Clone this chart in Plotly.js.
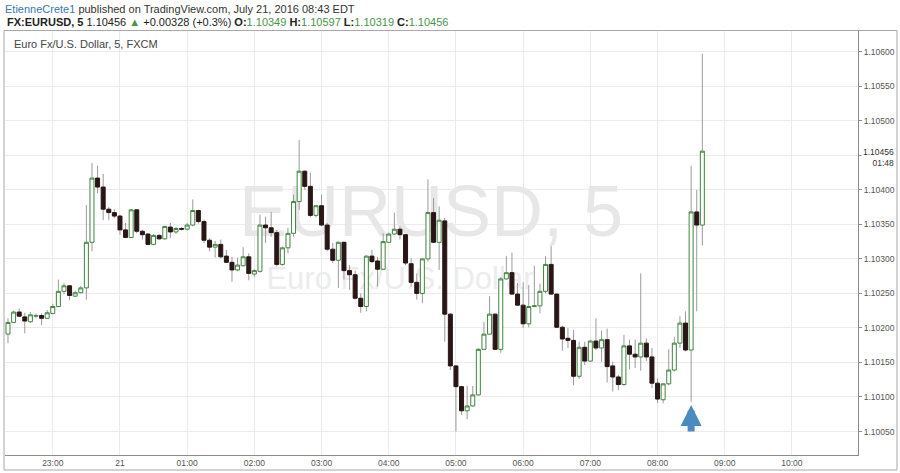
<!DOCTYPE html>
<html><head><meta charset="utf-8">
<script src="https://cdn.plot.ly/plotly-3.0.1.min.js"></script>
<style>html,body{margin:0;padding:0;background:#fff;} #chart{width:900px;height:473px;}</style>
</head><body><div id="chart"></div>
<script>
// ---- data: EUR/USD 5-minute bars starting 2016-07-20 22:20 ----
const firstBar = {day: 20, hour: 22, minute: 20};
const barMinutes = 5;
const open = [1.10191,1.10208,1.10223,1.10216,1.10209,1.10217,1.10218,1.10214,1.10221,1.10231,
1.10253,1.10261,1.10246,1.10251,1.10258,1.10324,1.10417,1.10404,1.10372,1.10367,
1.10362,1.10342,1.10331,1.10371,1.10340,1.10336,1.10321,1.10334,1.10329,1.10346,
1.10339,1.10344,1.10343,1.10349,1.10370,1.10354,1.10327,1.10317,1.10321,1.10304,
1.10295,1.10284,1.10290,1.10303,1.10278,1.10282,1.10349,1.10345,1.10338,1.10292,
1.10316,1.10337,1.10383,1.10427,1.10405,1.10363,1.10377,1.10349,1.10314,1.10298,
1.10324,1.10283,1.10277,1.10243,1.10231,1.10304,1.10297,1.10285,1.10324,1.10336,
1.10343,1.10335,1.10293,1.10266,1.10250,1.10300,1.10367,1.10324,1.10355,1.10220,
1.10145,1.10115,1.10080,1.10087,1.10103,1.10169,1.10191,1.10220,1.10169,1.10271,
1.10280,1.10249,1.10233,1.10206,1.10231,1.10232,1.10253,1.10292,1.10249,1.10201,
1.10185,1.10182,1.10130,1.10172,1.10152,1.10181,1.10171,1.10183,1.10145,1.10129,
1.10118,1.10174,1.10162,1.10158,1.10178,1.10158,1.10120,1.10096,1.10119,1.10139,
1.10178,1.10207,1.10168,1.10368,1.10349];
const high = [1.10214,1.10225,1.10228,1.10222,1.10223,1.10221,1.10221,1.10226,1.10235,1.10270,
1.10265,1.10262,1.10254,1.10261,1.10378,1.10439,1.10435,1.10423,1.10375,1.10372,
1.10364,1.10352,1.10372,1.10372,1.10342,1.10337,1.10336,1.10336,1.10348,1.10352,
1.10346,1.10346,1.10352,1.10386,1.10371,1.10357,1.10330,1.10326,1.10328,1.10313,
1.10303,1.10302,1.10317,1.10308,1.10285,1.10364,1.10361,1.10368,1.10342,1.10318,
1.10345,1.10393,1.10472,1.10428,1.10425,1.10378,1.10393,1.10352,1.10323,1.10325,
1.10325,1.10291,1.10283,1.10250,1.10305,1.10313,1.10303,1.10337,1.10338,1.10367,
1.10347,1.10336,1.10301,1.10279,1.10301,1.10415,1.10388,1.10376,1.10359,1.10221,
1.10146,1.10116,1.10116,1.10116,1.10171,1.10209,1.10246,1.10221,1.10274,1.10304,
1.10309,1.10265,1.10266,1.10262,1.10290,1.10264,1.10304,1.10319,1.10250,1.10203,
1.10200,1.10197,1.10180,1.10180,1.10183,1.10214,1.10196,1.10199,1.10151,1.10132,
1.10190,1.10183,1.10183,1.10279,1.10185,1.10171,1.10127,1.10120,1.10169,1.10187,
1.10217,1.10224,1.10435,1.10400,1.10597];
const low = [1.10178,1.10207,1.10216,1.10192,1.10207,1.10214,1.10204,1.10213,1.10220,1.10230,
1.10249,1.10240,1.10245,1.10250,1.10241,1.10311,1.10395,1.10356,1.10356,1.10359,
1.10335,1.10330,1.10330,1.10337,1.10328,1.10320,1.10320,1.10328,1.10328,1.10330,
1.10336,1.10341,1.10341,1.10347,1.10351,1.10323,1.10311,1.10302,1.10301,1.10294,
1.10267,1.10282,1.10289,1.10269,1.10274,1.10280,1.10323,1.10332,1.10289,1.10290,
1.10308,1.10332,1.10371,1.10400,1.10360,1.10360,1.10347,1.10311,1.10294,1.10258,
1.10270,1.10255,1.10241,1.10222,1.10224,1.10294,1.10260,1.10284,1.10323,1.10335,
1.10328,1.10291,1.10260,1.10241,1.10236,1.10296,1.10323,1.10284,1.10180,1.10139,
1.10050,1.10074,1.10068,1.10086,1.10102,1.10168,1.10190,1.10168,1.10164,1.10270,
1.10248,1.10232,1.10200,1.10201,1.10230,1.10221,1.10250,1.10248,1.10200,1.10167,
1.10171,1.10117,1.10126,1.10146,1.10151,1.10168,1.10151,1.10121,1.10108,1.10110,
1.10116,1.10140,1.10142,1.10138,1.10152,1.10113,1.10091,1.10091,1.10117,1.10137,
1.10171,1.10166,1.10093,1.10224,1.10319];
const close = [1.10208,1.10223,1.10217,1.10210,1.10219,1.10218,1.10214,1.10222,1.10231,1.10253,
1.10261,1.10247,1.10251,1.10258,1.10324,1.10417,1.10404,1.10372,1.10367,1.10362,
1.10342,1.10331,1.10371,1.10340,1.10335,1.10321,1.10334,1.10329,1.10347,1.10339,
1.10344,1.10343,1.10349,1.10370,1.10354,1.10327,1.10317,1.10321,1.10303,1.10295,
1.10284,1.10291,1.10303,1.10279,1.10283,1.10349,1.10345,1.10338,1.10292,1.10316,
1.10337,1.10383,1.10427,1.10405,1.10363,1.10377,1.10349,1.10314,1.10298,1.10324,
1.10283,1.10277,1.10243,1.10231,1.10304,1.10296,1.10285,1.10325,1.10336,1.10343,
1.10335,1.10294,1.10266,1.10250,1.10300,1.10367,1.10324,1.10356,1.10220,1.10145,
1.10115,1.10080,1.10087,1.10103,1.10169,1.10191,1.10220,1.10169,1.10271,1.10280,
1.10249,1.10233,1.10206,1.10231,1.10232,1.10253,1.10292,1.10249,1.10201,1.10184,
1.10182,1.10130,1.10172,1.10152,1.10181,1.10171,1.10183,1.10144,1.10129,1.10118,
1.10174,1.10162,1.10158,1.10178,1.10158,1.10120,1.10097,1.10119,1.10139,1.10178,
1.10207,1.10168,1.10368,1.10349,1.10456];
const hourTicks = ['2016-07-20 23:00','2016-07-21 00:00','2016-07-21 01:00','2016-07-21 02:00',
'2016-07-21 03:00','2016-07-21 04:00','2016-07-21 05:00','2016-07-21 06:00','2016-07-21 07:00',
'2016-07-21 08:00','2016-07-21 09:00','2016-07-21 10:00'];
const hourLabels = ['23:00','21','01:00','02:00','03:00','04:00','05:00','06:00','07:00','08:00','09:00','10:00'];
const priceTicks = [1.1005,1.1010,1.1015,1.1020,1.1025,1.1030,1.1035,1.1040,1.1045,1.1050,1.1055,1.1060];
const priceLabels = ['1.10050','1.10100','1.10150','1.10200','1.10250','1.10300','1.10350','1.10400','','1.10500','1.10550','1.10600'];
const changeText = '+0.00328 (+0.3%)';
const countdown = '01:48';
const watermarkText = ['EURUSD, 5', 'Euro Fx/U.S. Dollar'];
const watermarkX = ['2016-07-21 04:37:40', '2016-07-21 04:10:00'];
const watermarkY = [1.10359, 1.10267];
const arrowBar = 122;

// ---- build times ----
function pad(n){return (n<10?'0':'')+n;}
const times = open.map((_, i) => {
  let m = firstBar.hour*60 + firstBar.minute + i*barMinutes;
  let d = firstBar.day + Math.floor(m/1440); m = m % 1440;
  return '2016-07-' + pad(d) + ' ' + pad(Math.floor(m/60)) + ':' + pad(m%60);
});

const wx = [], wy = [];
times.forEach((t, i) => { wx.push(t, t, null); wy.push(low[i], high[i], null); });

const last = open.length - 1;
const green = '#4a944a';
const font = 'Liberation Sans, Arial, sans-serif';
const xRange = ['2016-07-20 22:17:20','2016-07-21 10:59:00'];
const yRange = [1.10016, 1.10630];

const traces = [
  {type:'scatter', mode:'text', x: watermarkX, y: watermarkY, text: watermarkText,
   textposition:'middle center', hoverinfo:'skip', showlegend:false,
   textfont:{family:font, size:[72,31], color:['#e7e7e7','#ececec']}},
  {type:'scatter', mode:'lines', x: wx, y: wy, connectgaps:false, hoverinfo:'skip', showlegend:false,
   line:{color:'#9b9b9b', width:1}},
  {type:'candlestick', xaxis:'x2', yaxis:'y2', x: times, open: open, close: close,
   high: open.map((o,i)=>Math.max(o, close[i])), low: open.map((o,i)=>Math.min(o, close[i])),
   increasing:{line:{color:'#3f853f', width:1}, fillcolor:'#ffffff'},
   decreasing:{line:{color:'#2a1616', width:1}, fillcolor:'#2a1616'},
   whiskerwidth:0, showlegend:false, hoverinfo:'skip'}
];

const f5 = v => v.toFixed(5);
const header2 = '<b>FX:EURUSD, 5</b> ' + f5(close[last]) + ' <span style="color:'+green+'">▲</span> ' + changeText +
  ' <b>O:</b><span style="color:'+green+'">' + f5(open[last]) + '</span>' +
  ' <b>H:</b><span style="color:'+green+'">' + f5(high[last]) + '</span>' +
  ' <b>L:</b><span style="color:'+green+'">' + f5(low[last]) + '</span>' +
  ' <b>C:</b><span style="color:'+green+'">' + f5(close[last]) + '</span>';

const layout = {
  width: 900, height: 473,
  margin: {l:5, r:42, t:31, b:18, pad:0},
  paper_bgcolor:'#ffffff', plot_bgcolor:'#ffffff',
  showlegend:false, hovermode:false,
  boxgap: 0.25, boxgroupgap: 0.05,
  font:{family:font, color:'#555', size:9},
  xaxis:{type:'date', range:xRange,
    rangeslider:{visible:false}, tickvals: hourTicks, ticktext: hourLabels,
    showgrid:true, gridcolor:'#ebebeb', gridwidth:1, zeroline:false,
    showline:true, linecolor:'#8c8c8c', linewidth:1, ticks:'', ticklen:0,
    tickfont:{family:font, size:8.5, color:'#555'}, fixedrange:true},
  yaxis:{side:'right', range:yRange, tickvals: priceTicks, ticktext: priceLabels,
    showgrid:true, gridcolor:'#ebebeb', gridwidth:1, zeroline:false,
    showline:true, linecolor:'#8c8c8c', linewidth:1, ticks:'outside', ticklen:3, tickcolor:'#8c8c8c',
    tickfont:{family:font, size:8.5, color:'#555'}, fixedrange:true},
  xaxis2:{type:'date', overlaying:'x', range:xRange, visible:false, showgrid:false,
    rangeslider:{visible:false}, fixedrange:true},
  yaxis2:{overlaying:'y', range:yRange, visible:false, showgrid:false, fixedrange:true},
  shapes:[
    {type:'rect', xref:'paper', yref:'paper', x0:-0.00117, x1:1.04572, y0:-0.03538, y1:1.00118,
     line:{color:'#a8a8a8', width:1}, fillcolor:'rgba(0,0,0,0)'}
  ],
  annotations:[
    {xref:'paper', yref:'paper', x:-0.0023, y:1.0519, xanchor:'left', yanchor:'middle', showarrow:false,
     text:'<span style="color:#3a78b4">EtienneCrete1</span> published on TradingView.com, July 21, 2016 08:43 EDT',
     font:{family:font, size:11, color:'#333'}},
    {xref:'paper', yref:'paper', x:-0.0003, y:1.0212, xanchor:'left', yanchor:'middle', showarrow:false,
     text: header2, font:{family:font, size:11, color:'#222'}},
    {xref:'paper', yref:'paper', x:0.0082, y:0.9693, xanchor:'left', yanchor:'middle', showarrow:false,
     text:'Euro Fx/U.S. Dollar, 5, FXCM', font:{family:font, size:11, color:'#444'}},
    {xref:'paper', yref:'paper', x:1.0035, y:0.7028, xanchor:'left', yanchor:'middle', showarrow:false,
     align:'right', bgcolor:'#ffffff', borderpad:1,
     text: f5(close[last]) + '<br>' + countdown, font:{family:font, size:8.5, color:'#333'}},
    {xref:'x', yref:'paper', x: times[arrowBar], y:0.118, ax:0, ay:28, showarrow:true, text:'',
     arrowhead:2, arrowsize:0.6, arrowwidth:7, arrowcolor:'#4b8cbf', standoff:0}
  ]
};

Plotly.newPlot('chart', traces, layout, {staticPlot:true, displayModeBar:false});
</script></body></html>
